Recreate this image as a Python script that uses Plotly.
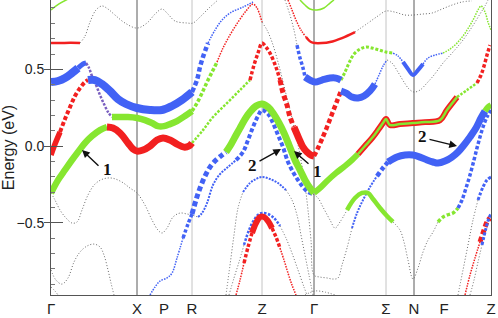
import plotly.graph_objects as go

# ---------------- high-symmetry path ----------------
sym_k = [0, 86, 113, 141, 211, 263, 335, 363, 393, 440]
sym_labels = ["Γ", "X", "P", "R", "Z", "Γ", "Σ", "N", "F", "Z"]
sym_shade = [None, "dark", None, "light", "light", "dark", "light", "dark", None, None]

# ---------------- bands (k, E in eV) ----------------
band_a_k = [0, 10, 20, 29, 34, 39, 45, 51, 57, 64, 74, 86, 96, 104, 111, 117, 124, 136, 142, 149, 159, 167]
band_a_e = [0.671, 0.672, 0.673, 0.671, 0.717, 0.808, 0.887, 0.913, 0.893, 0.854, 0.802, 0.769, 0.802, 0.860,
            0.893, 0.860, 0.815, 0.802, 0.802, 0.841, 0.906, 0.952]

band_b_k = [0, 7, 14, 21, 27, 32, 35, 38, 41, 45, 49, 53, 57, 61, 69, 77, 86, 94, 101, 107, 113, 119, 126, 134,
            141, 146, 151, 156, 161, 166, 172, 179, 187, 195, 202, 206, 211, 216, 221, 227, 234, 241, 246, 250,
            254, 257, 260, 263, 269, 276, 282, 287, 291, 296, 301, 306, 312, 319, 326, 332, 337, 346, 354, 362,
            369, 376, 382, 387, 394, 401, 407, 413, 419, 425, 430, 434, 437, 440]
band_b_e = [0.417, 0.424, 0.443, 0.476, 0.508, 0.535, 0.541, 0.509, 0.456, 0.398, 0.332, 0.274, 0.222, 0.189,
            0.189, 0.189, 0.183, 0.169, 0.150, 0.130, 0.130, 0.143, 0.163, 0.196, 0.228, 0.280, 0.345, 0.417,
            0.482, 0.547, 0.639, 0.724, 0.808, 0.880, 0.926, 0.900, 0.808, 0.756, 0.678, 0.548, 0.365, 0.183,
            0.039, -0.091, -0.254, -0.417, -0.613, -0.841, -0.854, -0.860, -0.867, -0.860, -0.776, -0.665,
            -0.535, -0.437, -0.352, -0.267, -0.196, -0.143, -0.104, -0.072, -0.059, -0.059, -0.072, -0.091,
            -0.104, -0.111, -0.098, -0.072, -0.039, 0.007, 0.059, 0.117, 0.183, 0.228, 0.254, 0.267]

band_c_k = [0, 4, 9, 14, 19, 24, 29, 34, 37, 44, 51, 59, 67, 75, 86, 99, 111, 121, 131, 141, 146, 149, 152, 157,
            164, 171, 179, 192, 202]
band_c_e = [-0.059, 0.013, 0.091, 0.176, 0.254, 0.326, 0.378, 0.417, 0.430, 0.430, 0.404, 0.359, 0.306, 0.274,
            0.248, 0.235, 0.235, 0.261, 0.300, 0.352, 0.430, 0.515, 0.580, 0.671, 0.756, 0.821, 0.867, 0.906, 0.939]

band_d_k = [0, 7, 14, 21, 27, 34, 41, 49, 56, 62, 69, 77, 82, 86, 92, 99, 106, 112, 119, 126, 133, 138, 141, 152,
            162, 176, 189, 199, 203, 207, 211, 215, 219, 223, 226, 229, 232, 236, 239, 243, 246, 249, 252, 256,
            260, 263, 267, 271, 276, 281, 286, 290, 295, 301, 307, 313, 319, 324, 328, 332, 336, 341, 347, 353,
            358, 363, 369, 376, 383, 392, 402, 412, 421, 429, 434, 437]
band_d_e = [-0.306, -0.222, -0.156, -0.091, -0.039, 0.020, 0.065, 0.104, 0.124, 0.117, 0.085, 0.020, -0.020,
            -0.033, -0.026, 0.000, 0.039, 0.052, 0.039, 0.013, -0.007, 0.000, 0.020, 0.104, 0.189, 0.280, 0.365,
            0.430, 0.528, 0.606, 0.671, 0.645, 0.606, 0.548, 0.495, 0.430, 0.346, 0.267, 0.189, 0.124, 0.078,
            0.033, -0.007, -0.039, -0.059, -0.065, -0.013, 0.046, 0.124, 0.209, 0.293, 0.359, 0.346, 0.319,
            0.313, 0.326, 0.359, 0.404, 0.463, 0.521, 0.561, 0.541, 0.482, 0.417, 0.372, 0.352, 0.365, 0.411,
            0.463, 0.541, 0.613, 0.691, 0.776, 0.861, 0.913, 0.952]

band_e_k = [234, 239, 243, 246, 249, 252, 254, 259, 264, 271, 279, 285, 290, 294, 298, 303, 309, 315, 321, 328,
            335, 342, 347, 352, 357, 362, 367, 372, 377, 384, 392, 399, 406, 412, 418, 423, 427, 430, 434, 437, 440]
band_e_e = [0.952, 0.854, 0.756, 0.658, 0.574, 0.509, 0.450, 0.430, 0.417, 0.430, 0.443, 0.443, 0.430, 0.482,
            0.541, 0.600, 0.632, 0.645, 0.639, 0.626, 0.613, 0.606, 0.587, 0.548, 0.502, 0.463, 0.495, 0.535,
            0.574, 0.593, 0.606, 0.632, 0.671, 0.717, 0.776, 0.834, 0.887, 0.913, 0.874, 0.808, 0.756]

band_f_k = [237, 241, 245, 250, 255, 260, 264, 271, 279, 291, 304, 317, 327, 335, 344, 354, 362, 371, 381, 391,
            401, 411, 421]
band_f_e = [0.952, 0.887, 0.821, 0.756, 0.711, 0.678, 0.671, 0.671, 0.678, 0.704, 0.743, 0.802, 0.848, 0.880,
            0.873, 0.854, 0.854, 0.860, 0.867, 0.893, 0.919, 0.939, 0.946]

band_g_k = [0, 8, 17]
band_g_e = [0.887, 0.926, 0.958]

band_h_k = [249, 254, 259, 266, 273, 279, 283]
band_h_e = [0.952, 0.919, 0.893, 0.887, 0.900, 0.932, 0.952]

band_i_k = [99, 104, 109, 116, 121, 126, 132, 137, 141, 145, 149, 154, 159, 165, 171, 175, 179, 184, 189, 194,
            199, 205, 211, 217, 222, 228, 233, 238, 244, 249, 254, 259, 263, 269, 277, 285, 294, 301, 307, 314,
            321, 327, 332, 335, 339, 349, 362, 374, 389, 396, 406, 416, 426, 430, 433, 436, 439]
band_i_e = [-0.971, -0.919, -0.880, -0.860, -0.828, -0.730, -0.600, -0.508, -0.443, -0.352, -0.274, -0.196,
            -0.137, -0.091, -0.059, -0.039, 0.000, 0.059, 0.117, 0.176, 0.222, 0.261, 0.274, 0.254, 0.215,
            0.150, 0.085, 0.007, -0.091, -0.156, -0.222, -0.274, -0.306, -0.274, -0.222, -0.176, -0.130,
            -0.091, -0.052, 0.000, 0.052, 0.104, 0.150, 0.176, 0.137, 0.143, 0.150, 0.156, 0.169, 0.235,
            0.319, 0.365, 0.411, 0.463, 0.521, 0.593, 0.658]

band_j_k = [0, 4, 9, 15, 21, 26, 31, 37, 44, 52, 61, 71, 79, 86, 94, 101, 107, 111, 116, 122, 129, 136, 141, 147,
            151, 156, 162, 169, 177, 185, 192, 197, 202, 207, 211, 217, 222, 227, 232, 237, 242, 247, 252, 257,
            262, 267, 272, 279, 284, 289, 296, 304, 311, 317, 322, 329, 336, 342, 349, 353, 357, 362, 367, 372,
            377, 382, 387, 392, 396, 402, 407, 411, 415, 419, 423, 426, 429, 432, 436, 440]
band_j_e = [-0.306, -0.352, -0.417, -0.469, -0.502, -0.495, -0.417, -0.319, -0.248, -0.215, -0.209, -0.235,
            -0.274, -0.306, -0.385, -0.482, -0.548, -0.567, -0.535, -0.463, -0.437, -0.443, -0.450, -0.463,
            -0.437, -0.372, -0.254, -0.183, -0.137, -0.091, -0.039, 0.039, 0.124, 0.196, 0.235, 0.209, 0.150,
            0.072, -0.007, -0.104, -0.169, -0.222, -0.267, -0.300, -0.313, -0.339, -0.398, -0.482, -0.535,
            -0.495, -0.417, -0.339, -0.306, -0.306, -0.345, -0.404, -0.456, -0.495, -0.548, -0.626, -0.743,
            -0.867, -0.795, -0.691, -0.613, -0.561, -0.495, -0.463, -0.450, -0.437, -0.404, -0.352, -0.274,
            -0.189, -0.091, -0.013, 0.059, 0.124, 0.189, 0.235]

band_k_k = [0, 5, 11, 17, 23, 29, 36, 43, 49, 53, 57, 60, 63]
band_k_e = [-0.808, -0.874, -0.900, -0.860, -0.756, -0.691, -0.652, -0.639, -0.658, -0.711, -0.808, -0.893, -0.971]

band_l_k = [0, 4, 7]
band_l_e = [-0.919, -0.945, -0.971]

band_m_k = [185, 189, 193, 197, 201, 205, 209, 213, 217, 221, 225, 229, 233, 237, 241, 245]
band_m_e = [-0.971, -0.874, -0.763, -0.659, -0.567, -0.502, -0.463, -0.463, -0.489, -0.535, -0.593, -0.665,
            -0.743, -0.828, -0.906, -0.971]

band_n_k = [178, 183, 188, 193, 198, 203, 208, 212, 217, 223, 229, 235, 241, 247, 253, 256]
band_n_e = [-0.971, -0.860, -0.756, -0.645, -0.548, -0.482, -0.443, -0.437, -0.443, -0.469, -0.521, -0.600,
            -0.698, -0.808, -0.919, -0.971]

band_o_k = [175, 179, 183, 187, 192, 199, 205, 211, 219, 227, 235, 241, 246, 250, 254, 258, 262]
band_o_e = [-0.971, -0.776, -0.580, -0.404, -0.300, -0.241, -0.215, -0.202, -0.215, -0.241, -0.287, -0.352,
            -0.450, -0.580, -0.711, -0.841, -0.971]

band_p_k = [254, 264, 274, 284]
band_p_e = [-0.971, -0.945, -0.952, -0.971]

band_r1_k = [414, 419, 424, 429, 433, 436, 439]
band_r1_e = [-0.971, -0.841, -0.730, -0.626, -0.548, -0.495, -0.469]
band_r2_k = [419, 423, 427, 431, 435, 438, 440]
band_r2_e = [-0.971, -0.874, -0.756, -0.645, -0.535, -0.469, -0.443]
band_r3_k = [407, 412, 417, 422, 427, 432, 436, 440]
band_r3_e = [-0.971, -0.808, -0.645, -0.482, -0.352, -0.267, -0.222, -0.202]

# arrow annotations: head (k, E), tail (k, E), label position and text
arrow_head = [(31, -0.026), (230, -0.020), (243, -0.033), (406, 0.000)]
arrow_tail = [(49, -0.137), (207, -0.104), (259, -0.124), (377, 0.046)]
arrow_text_pos = [(56, -0.156), (201, -0.124), (266, -0.163), (371, 0.059)]
arrow_text = ["1", "2", "1", "2"]

# ---------------- styling ----------------
GRAY = "#6a6a6a"
RED = "#f22020"
BLUE = "#4262f5"
GREEN = "#86e630"
PURPLE = "#7a5fc0"

bands = {
    "A": (band_a_k, band_a_e), "B": (band_b_k, band_b_e), "C": (band_c_k, band_c_e),
    "D": (band_d_k, band_d_e), "E": (band_e_k, band_e_e), "F": (band_f_k, band_f_e),
    "G": (band_g_k, band_g_e), "H": (band_h_k, band_h_e), "I": (band_i_k, band_i_e),
    "J": (band_j_k, band_j_e), "K": (band_k_k, band_k_e), "L": (band_l_k, band_l_e),
    "M": (band_m_k, band_m_e), "N": (band_n_k, band_n_e), "O": (band_o_k, band_o_e),
    "P": (band_p_k, band_p_e), "R1": (band_r1_k, band_r1_e), "R2": (band_r2_k, band_r2_e),
    "R3": (band_r3_k, band_r3_e),
}
for name, (kk, ee) in bands.items():
    assert len(kk) == len(ee), name

# (band, k from, k to, colour, width, kind, layer)
styles = [
    ("A", 29, 167, GRAY, 1, "thin", 0), ("A", 0, 29, RED, 2.5, "solid", 1),
    ("B", 211, 301, GRAY, 1, "thin", 0), ("B", 166, 211, RED, 1.5, "dot", 1),
    ("B", 35, 61, PURPLE, 2.5, "dot", 2), ("B", 141, 166, GREEN, 3.5, "dot", 2),
    ("B", 301, 326, BLUE, 2, "dot", 1), ("B", 326, 337, BLUE, 4.5, "dot", 2),
    ("B", 0, 27, BLUE, 8, "solid", 3), ("B", 27, 35, BLUE, 5, "solid", 3),
    ("B", 61, 141, GREEN, 6.5, "solid", 3), ("B", 337, 434, BLUE, 7, "solid", 3),
    ("B", 434, 440, GREEN, 6, "solid", 3),
    ("C", 0, 9, RED, 5.5, "solid", 3), ("C", 9, 37, RED, 4, "dot", 2),
    ("C", 37, 141, BLUE, 8, "solid", 3), ("C", 141, 157, BLUE, 4.5, "dot", 2),
    ("C", 157, 202, BLUE, 1.5, "dot", 1),
    ("D", 0, 56, GREEN, 6.5, "solid", 3), ("D", 56, 141, RED, 7, "solid", 3),
    ("D", 141, 199, GREEN, 2.5, "dot", 1), ("D", 199, 229, RED, 3.5, "dot", 2),
    ("D", 229, 243, RED, 5, "dot", 2), ("D", 243, 263, RED, 7, "solid", 3),
    ("D", 263, 290, RED, 4.5, "dot", 2), ("D", 290, 324, BLUE, 7, "solid", 3),
    ("D", 324, 336, BLUE, 1.5, "dot", 1), ("D", 336, 437, GRAY, 1, "thin", 0),
    ("E", 234, 246, GRAY, 1, "thin", 0), ("E", 246, 254, BLUE, 3.5, "dot", 2),
    ("E", 254, 290, BLUE, 7, "solid", 3), ("E", 290, 342, GREEN, 3, "dot", 2),
    ("E", 342, 352, BLUE, 1.5, "dot", 1), ("E", 352, 372, BLUE, 4, "solid", 3),
    ("E", 372, 392, BLUE, 1.5, "dot", 1), ("E", 392, 440, GREEN, 1.5, "dot", 1),
    ("F", 237, 255, RED, 1.5, "dot", 1), ("F", 255, 304, RED, 2.5, "solid", 1),
    ("F", 304, 421, GRAY, 1, "thin", 0),
    ("G", 0, 17, GREEN, 1.5, "solid", 1), ("H", 249, 283, GREEN, 1.5, "solid", 1),
    ("I", 99, 132, BLUE, 1.5, "dot", 1), ("I", 132, 141, BLUE, 3.5, "dot", 2),
    ("I", 141, 175, BLUE, 5, "dot", 2), ("I", 175, 263, GREEN, 7, "solid", 3),
    ("I", 263, 307, GREEN, 6, "solid", 3), ("I", 307, 406, RED, 6, "solid", 3),
    ("I", 307, 406, GREEN, 2.5, "solid", 4), ("I", 406, 426, GREEN, 2.5, "dot", 2),
    ("I", 426, 439, RED, 3.5, "dot", 2),
    ("J", 0, 147, GRAY, 1, "thin", 0), ("J", 147, 185, BLUE, 2, "dot", 1),
    ("J", 185, 262, BLUE, 4, "dot", 2), ("J", 262, 296, GRAY, 1, "thin", 0),
    ("J", 296, 342, GREEN, 4.5, "solid", 3), ("J", 342, 387, GRAY, 1, "thin", 0),
    ("J", 387, 407, GREEN, 3.5, "dot", 2), ("J", 407, 440, BLUE, 3.5, "dot", 2),
    ("K", 0, 63, GRAY, 1, "thin", 0), ("L", 0, 7, GRAY, 1, "thin", 0),
    ("M", 185, 193, RED, 1.5, "dot", 1), ("M", 193, 201, RED, 3.5, "dot", 2),
    ("M", 201, 221, RED, 6, "solid", 3), ("M", 221, 229, RED, 3.5, "dot", 2),
    ("M", 229, 245, RED, 1.5, "dot", 1),
    ("N", 178, 193, GRAY, 1, "thin", 0), ("N", 193, 229, BLUE, 2.5, "dot", 2),
    ("N", 229, 256, GRAY, 1, "thin", 0),
    ("O", 175, 192, GRAY, 1, "thin", 0), ("O", 192, 235, BLUE, 2, "dot", 1),
    ("O", 235, 262, GRAY, 1, "thin", 0),
    ("P", 254, 284, GRAY, 1, "thin", 0),
    ("R1", 414, 429, RED, 1.5, "dot", 1), ("R1", 429, 439, RED, 5, "dot", 2),
    ("R2", 419, 431, GRAY, 1, "thin", 0), ("R2", 431, 440, BLUE, 3, "dot", 2),
    ("R3", 407, 427, GRAY, 1, "thin", 0), ("R3", 427, 440, BLUE, 3, "dot", 2),
]


def part(name, k0, k1):
    kk, ee = bands[name]
    sel = [(a, b) for a, b in zip(kk, ee) if k0 <= a <= k1]
    return [p[0] for p in sel], [p[1] for p in sel]


def dash_for(kind, w):
    if kind == "thin":
        return "1px,2px"
    if kind == "dot":
        return f"{w:.1f}px,{max(1.2, w * 0.6):.1f}px"
    return "solid"


fig = go.Figure()
for st in sorted(styles, key=lambda s: s[6]):
    name, k0, k1, col, w, kind, _ = st
    xs, ys = part(name, k0, k1)
    fig.add_trace(go.Scatter(
        x=xs, y=ys, mode="lines", hoverinfo="skip", showlegend=False,
        line=dict(color=col, width=w, dash=dash_for(kind, w), shape="spline", smoothing=1.0),
    ))

# dummy trace for the overlay axis carrying the inner major ticks
fig.add_trace(go.Scatter(x=[sym_k[0]], y=[0], yaxis="y2", mode="markers",
                         marker=dict(opacity=0), showlegend=False, hoverinfo="skip"))

shade_col = {"dark": "#5a5a5a", "light": "#c4c4c4"}
for kv, sh in zip(sym_k, sym_shade):
    if sh:
        fig.add_shape(type="line", xref="x", yref="paper", x0=kv, x1=kv, y0=0, y1=1,
                      line=dict(color=shade_col[sh], width=1), layer="below")

for (hk, he), (tk, te), (lk, le), txt in zip(arrow_head, arrow_tail, arrow_text_pos, arrow_text):
    fig.add_annotation(x=hk, y=he, ax=tk, ay=te, xref="x", yref="y", axref="x", ayref="y",
                       text="", showarrow=True, arrowhead=2, arrowsize=1.1, arrowwidth=1.4,
                       arrowcolor="#111111", standoff=0, startstandoff=0)
    fig.add_annotation(x=lk, y=le, xref="x", yref="y", text=f"<b>{txt}</b>", showarrow=False,
                       font=dict(family="Liberation Serif", size=17, color="#111111"))

YR = [-0.971, 0.952]
fig.update_layout(
    width=498, height=318,
    margin=dict(l=51, r=7, t=0, b=23, autoexpand=False),
    paper_bgcolor="white", plot_bgcolor="white",
    font=dict(family="Liberation Sans", color="#222222"),
    xaxis=dict(range=[sym_k[0], sym_k[-1]], tickvals=sym_k, ticktext=sym_labels, ticks="",
               showgrid=False, zeroline=False, showline=True, mirror=True, linecolor="#555555",
               linewidth=1, tickfont=dict(size=15, color="#222222"), automargin=False),
    yaxis=dict(range=YR, tickvals=[-0.5, 0.0, 0.5], ticktext=["−0.5", "0.0", "0.5"],
               ticks="outside", ticklen=6, tickcolor="#555555", showgrid=False, zeroline=False,
               showline=True, mirror=True, linecolor="#555555", linewidth=1, automargin=False,
               tickfont=dict(size=14, color="#222222"), ticklabelstandoff=-3,
               minor=dict(ticks="inside", ticklen=4, dtick=0.1, tick0=0, tickcolor="#777777", showgrid=False),
               title=dict(text="Energy (eV)", font=dict(size=16, color="#222222"), standoff=8)),
    yaxis2=dict(range=YR, overlaying="y", side="left", tickvals=[-0.5, 0.0, 0.5], ticks="inside",
                ticklen=12, tickcolor="#555555", showticklabels=False, showgrid=False, zeroline=False,
                showline=False, automargin=False),
)

fig.write_html("out.html", config={"displayModeBar": False, "staticPlot": True},
               post_script="document.body.style.margin='0';")
